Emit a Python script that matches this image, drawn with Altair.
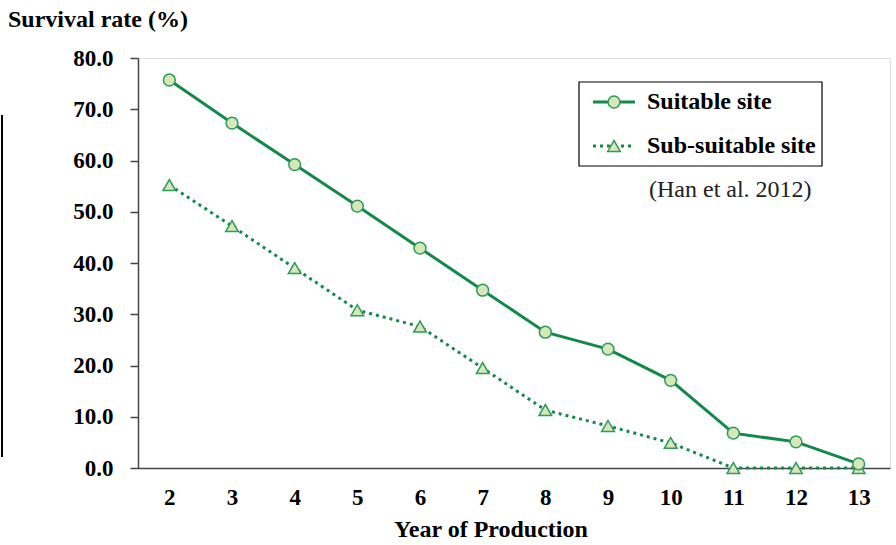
import altair as alt
import pandas as pd

years = [2, 3, 4, 5, 6, 7, 8, 9, 10, 11, 12, 13]
suitable = [75.7, 67.3, 59.2, 51.1, 42.9, 34.7, 26.5, 23.2, 17.1, 6.8, 5.1, 0.8]
sub_suitable = [55.2, 47.2, 39.0, 30.8, 27.6, 19.5, 11.3, 8.2, 4.9, 0.0, 0.0, 0.0]
y_ticks = [0, 10, 20, 30, 40, 50, 60, 70, 80]

FONT = "Liberation Serif"
LINE = "#138a4a"
MFILL = "#d6e8b8"
MSTROKE = "#2f9a5c"
FS = 24

df = pd.DataFrame({"year": years, "suitable": suitable, "sub": sub_suitable})

W, H = 752, 410

xs = alt.X("year:Q", scale=alt.Scale(domain=[1.5, 13.5], nice=False, zero=False),
           axis=alt.Axis(values=years, format="d", tickSize=0, labelPadding=18,
                         labelFontSize=23, labelFontWeight="bold", labelFont=FONT,
                         labelColor="black", domainColor="#444", domainWidth=1.5,
                         grid=False, title=None))
def ys(field):
    return alt.Y(f"{field}:Q", scale=alt.Scale(domain=[0, 80], nice=False),
                 axis=alt.Axis(values=y_ticks, format=".1f", tickSize=8, labelPadding=17,
                               labelFontSize=23, labelFontWeight="bold", labelFont=FONT,
                               labelColor="black", domainColor="#444", domainWidth=1.5,
                               tickColor="#444", tickWidth=1.5, grid=False, title=None))

base = alt.Chart(df)

line1 = base.mark_line(color=LINE, strokeWidth=3).encode(x=xs, y=ys("suitable"))
line2 = base.mark_line(color=LINE, strokeWidth=3, strokeDash=[3, 4]).encode(x=xs, y=ys("sub"))
pts1 = base.mark_point(shape="circle", filled=True, fill=MFILL, stroke=MSTROKE,
                       strokeWidth=1.5, size=140, opacity=1).encode(x=xs, y=ys("suitable"))
pts2 = base.mark_point(shape="triangle-up", filled=True, fill=MFILL, stroke=MSTROKE,
                       strokeWidth=1.5, size=160, opacity=1).encode(x=xs, y=ys("sub"))

one = alt.Chart(pd.DataFrame({"a": [0]}))

# legend box
box = one.mark_rect(fill="white", stroke="black", strokeWidth=1.2).encode(
    x=alt.value(441), x2=alt.value(684), y=alt.value(24), y2=alt.value(108))
leg_l1 = one.mark_rule(color=LINE, strokeWidth=3).encode(
    x=alt.value(455), x2=alt.value(497), y=alt.value(44))
leg_p1 = one.mark_point(shape="circle", filled=True, fill=MFILL, stroke=MSTROKE,
                        strokeWidth=1.5, size=140, opacity=1).encode(x=alt.value(476), y=alt.value(44))
leg_l2 = one.mark_rule(color=LINE, strokeWidth=3, strokeDash=[3, 4]).encode(
    x=alt.value(455), x2=alt.value(497), y=alt.value(88))
leg_p2 = one.mark_point(shape="triangle-up", filled=True, fill=MFILL, stroke=MSTROKE,
                        strokeWidth=1.5, size=160, opacity=1).encode(x=alt.value(476), y=alt.value(88))
leg_t1 = one.mark_text(text="Suitable site", font=FONT, fontSize=FS, fontWeight="bold",
                       align="left", baseline="middle", color="black").encode(
    x=alt.value(509), y=alt.value(44))
leg_t2 = one.mark_text(text="Sub-suitable site", font=FONT, fontSize=FS, fontWeight="bold",
                       align="left", baseline="middle", color="black").encode(
    x=alt.value(509), y=alt.value(88))
cite = one.mark_text(text="(Han et al. 2012)", font=FONT, fontSize=FS,
                     align="left", baseline="middle", color="#222").encode(
    x=alt.value(511), y=alt.value(132))

ytitle = one.mark_text(text="Survival rate (%)", font=FONT, fontSize=FS, fontWeight="bold",
                       align="left", baseline="alphabetic", color="black").encode(
    x=alt.value(-130), y=alt.value(-31))
xtitle = one.mark_text(text="Year of Production", font=FONT, fontSize=FS, fontWeight="bold",
                       align="center", baseline="middle", color="black").encode(
    x=alt.value(353), y=alt.value(472))
edge = one.mark_rule(color="black", strokeWidth=2).encode(
    x=alt.value(-136), y=alt.value(57), y2=alt.value(399))

chart = alt.layer(line2, line1, pts2, pts1, box, leg_l1, leg_p1, leg_l2, leg_p2,
                  leg_t1, leg_t2, cite, ytitle, xtitle, edge).properties(
    width=W, height=H,
    autosize=alt.AutoSizeParams(type="none"),
    padding={"left": 138, "top": 58, "right": 6, "bottom": 77},
).configure_view(stroke=None).configure(background="white")

chart.save("out.html", embed_options={"renderer": "svg", "actions": False})
